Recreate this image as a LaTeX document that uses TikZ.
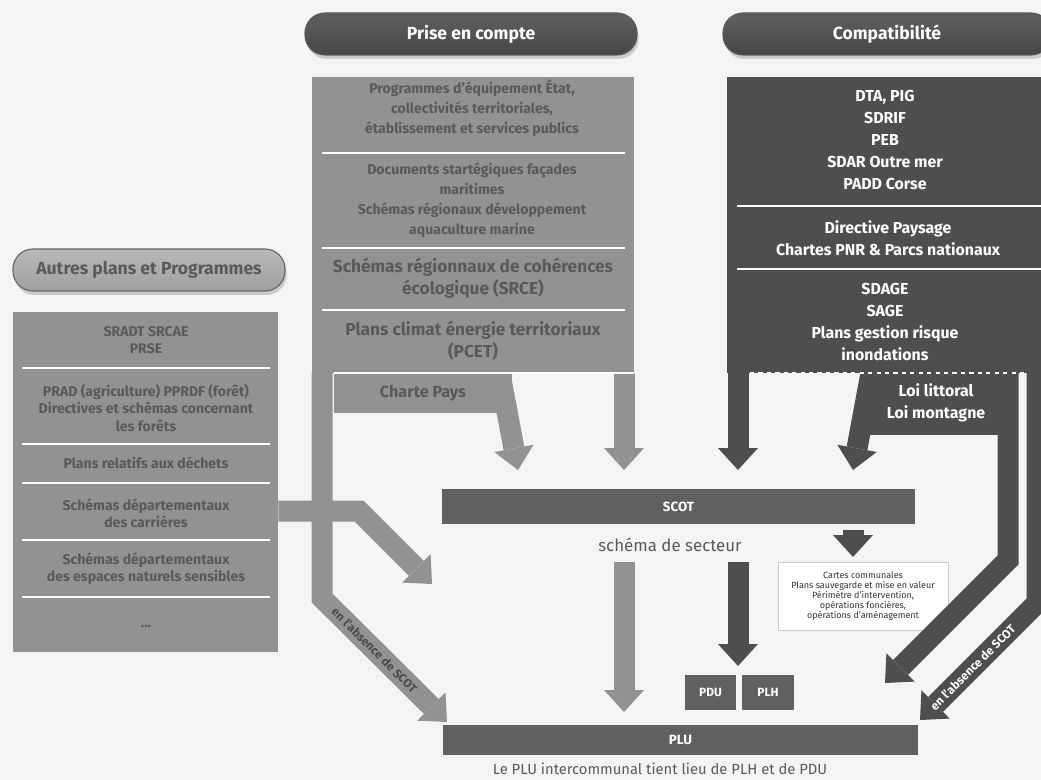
\documentclass[tikz,border=0pt]{standalone}
\usepackage{fontspec}
\setmainfont{Fira Sans}
\usepackage{tikz}
\usetikzlibrary{arrows.meta,calc,positioning,shadows}
\definecolor{paper}{HTML}{F4F4F4}
\definecolor{midgrey}{HTML}{929292}
\definecolor{inkgrey}{HTML}{5A5A5A}
\definecolor{darkgrey}{HTML}{4E4E4E}
\definecolor{bargrey}{HTML}{606060}
\tikzstyle{banner} = [rectangle, rounded corners=5mm, minimum height=10.5mm, draw=gray!70!black, line width=0.8pt, top color=gray!75!black, bottom color=gray!55!black, text=white, font=\bfseries\fontsize{12.5}{15}\selectfont, drop shadow={opacity=0.35, shadow xshift=0.4mm, shadow yshift=-1mm}]
\tikzstyle{lightbanner} = [banner, top color=gray!55, bottom color=gray!75, draw=gray!80!black, text=inkgrey]
\tikzstyle{panel} = [rectangle, fill=midgrey, inner sep=0pt]
\tikzstyle{darkpanel} = [rectangle, fill=darkgrey, inner sep=0pt]
\tikzstyle{bar} = [rectangle, fill=bargrey, inner sep=0pt, text=white, font=\bfseries\fontsize{9.5}{12}\selectfont]
\tikzstyle{softtext} = [align=center, text=inkgrey, font=\bfseries\fontsize{10}{12.2}\selectfont]
\tikzstyle{widesofttext} = [softtext, font=\bfseries\fontsize{10}{14.2}\selectfont]
\tikzstyle{bigsofttext} = [softtext, font=\bfseries\fontsize{12.3}{15.6}\selectfont]
\tikzstyle{whitetext} = [align=center, text=white, font=\bfseries\fontsize{11.3}{15.6}\selectfont]
\tikzstyle{divider} = [white, line width=1pt]
\tikzstyle{lightflow} = [draw=midgrey, line width=5.25mm, line join=miter, -{Triangle[width=10mm,length=5.5mm,line width=0pt]}]
\tikzstyle{darkflow} = [lightflow, draw=darkgrey]
\begin{document}
\begin{tikzpicture}[x=0.25mm, y=-0.25mm]
        \useasboundingbox (0,0) rectangle (1041,780);
        \clip (0,0) rectangle (1041,780);
        \fill[paper] (0,0) rectangle (1041,780);
        \node (hdr-prise) [banner, minimum width=83mm] at (471,34) {Prise en compte};
        \node (hdr-compat) [banner, minimum width=82mm] at (887,34) {Compatibilité};
        \node (hdr-autres) [lightbanner, minimum width=68mm] at (149,270) {Autres plans et Programmes};
        \node (autres) [panel, minimum width=66.25mm, minimum height=85mm] at (145.5,482) {};
        \node (prise) [panel, minimum width=80.5mm, minimum height=74mm] at (473,225) {};
        \node (charte) [panel, minimum width=44.5mm, minimum height=10mm] at (423,393) {};
        \node (compat) [darkpanel, minimum width=79.5mm, minimum height=74mm] at (886,225) {};
        \node (loi) [darkpanel, minimum width=39mm, minimum height=15.5mm] at (940,404) {};
        \node (scot) [bar, minimum width=118.25mm, minimum height=8.75mm] at (678.5,506.5) {SCOT};
        \node (plu) [bar, minimum width=118.75mm, minimum height=7.5mm] at (680.5,740) {PLU};
        \node (pdu) [bar, font=\bfseries\fontsize{8.5}{10}\selectfont, minimum width=12.75mm, minimum height=8.75mm] at (710.5,692.5) {PDU};
        \node (plh) [bar, font=\bfseries\fontsize{8.5}{10}\selectfont, minimum width=13mm, minimum height=8.75mm] at (768,692.5) {PLH};
        \node (secteur) [text=inkgrey, font=\fontsize{12}{14}\selectfont] at (670,545) {schéma de secteur};
        \node (carte) [draw=gray!40, fill=white, minimum width=42.5mm, minimum height=17mm, align=center, text=black!80, font=\fontsize{6.4}{7.1}\selectfont] at (863,596) {Cartes communales\\Plans sauvegarde et mise en valeur\\Périmètre d'intervention,\\opérations foncières,\\opérations d'aménagement};
        \node (note) [text=inkgrey, font=\fontsize{10.5}{12}\selectfont] at (660,769) {Le PLU intercommunal tient lieu de PLH et de PDU};
        \coordinate (autres-out) at (autres.east |- 0,511);
        \coordinate (autres-bend) at (359,511);
        \coordinate (autres-tip) at (432,584);
        \coordinate (left-top) at (322,373);
        \coordinate (left-bend) at (322,598);
        \coordinate (left-tip) at (447,722);
        \coordinate (charte-top) at (500,374);
        \coordinate (charte-tip) at (518,470);
        \coordinate (prise-top) at (624,373);
        \coordinate (prise-tip) at (624,470);
        \coordinate (compat-top) at (738,373);
        \coordinate (compat-tip) at (738,470);
        \coordinate (loi-top) at (871,373);
        \coordinate (loi-tip) at (853,470);
        \coordinate (inner-top) at (1008,373);
        \coordinate (inner-bend) at (1008,560);
        \coordinate (inner-tip) at (885,683);
        \coordinate (outer-top) at (1037,373);
        \coordinate (outer-bend) at (1037,603);
        \coordinate (outer-tip) at (920,720);
        \coordinate (secteur-light) at (624,562);
        \coordinate (light-tip) at (624,712);
        \coordinate (secteur-dark) at (738,562);
        \coordinate (dark-tip) at (738,666);
        \coordinate (small-top) at (853,530);
        \coordinate (small-tip) at (853,557);
        \draw [lightflow] (left-top) -- (left-bend) -- (left-tip);
        \draw [lightflow] (autres-out) -- (autres-bend) -- (autres-tip);
        \draw [lightflow] (charte-top) -- (charte-tip);
        \draw [lightflow] (prise-top) -- (prise-tip);
        \draw [darkflow] (compat-top) -- (compat-tip);
        \draw [darkflow] (loi-top) -- (loi-tip);
        \draw [darkflow] (inner-top) -- (inner-bend) -- (inner-tip);
        \draw [darkflow] (outer-top) -- (outer-bend) -- (outer-tip);
        \draw [lightflow] (secteur-light) -- (light-tip);
        \draw [darkflow] (secteur-dark) -- (dark-tip);
        \draw [darkflow] (small-top) -- (small-tip);
        \foreach \y in {368,444,483,540,597} \draw [divider] (22,\y) -- (270,\y);
        \foreach \y in {153,248,310} \draw [divider] (322,\y) -- (625,\y);
        \draw [divider] (334,373) -- (634,373);
        \foreach \y in {206,269} \draw [divider] (737,\y) -- (1041,\y);
        \draw [divider, dashed] (750,373) -- (1028,373);
        \node (t-sradt) [softtext] at (146,340) {SRADT SRCAE\\PRSE};
        \node (t-prad) [softtext] at (146,408) {PRAD (agriculture) PPRDF (forêt)\\Directives et schémas concernant\\les forêts};
        \node (t-dechets) [softtext] at (146,463) {Plans relatifs aux déchets};
        \node (t-carrieres) [softtext] at (146,513) {Schémas départementaux\\des carrières};
        \node (t-ens) [softtext] at (146,569) {Schémas départementaux\\des espaces naturels sensibles};
        \node (t-etc) [softtext] at (146,626) {...};
        \node (t-equip) [widesofttext] at (472,108) {Programmes d'équipement État,\\collectivités territoriales,\\établissement et services publics};
        \node (t-facades) [widesofttext] at (472,200) {Documents startégiques façades\\maritimes\\Schémas régionaux développement\\aquaculture marine};
        \node (t-srce) [bigsofttext] at (473,278) {Schémas régionnaux de cohérences\\écologique (SRCE)};
        \node (t-pcet) [bigsofttext] at (473,341) {Plans climat énergie territoriaux\\(PCET)};
        \node (t-charte) [bigsofttext, font=\bfseries\fontsize{11.5}{14}\selectfont] at (charte) {Charte Pays};
        \node (t-dta) [whitetext] at (885,140) {DTA, PIG\\SDRIF\\PEB\\SDAR Outre mer\\PADD Corse};
        \node (t-paysage) [whitetext] at (888,238) {Directive Paysage\\Chartes PNR \& Parcs nationaux};
        \node (t-sdage) [whitetext] at (885,322) {SDAGE\\SAGE\\Plans gestion risque\\inondations};
        \node (t-loi) [whitetext] at (936,403) {Loi littoral\\Loi montagne};
        \node (lbl-left) [text=black!70, font=\bfseries\fontsize{8.5}{10}\selectfont, rotate=-45] at ($(left-bend)!0.42!(left-tip)$) {en l'absence de SCOT};
        \node (lbl-right) [text=white, font=\bfseries\fontsize{8.5}{10}\selectfont, rotate=45] at ($(outer-bend)!0.55!(outer-tip)$) {en l'absence de SCOT};
\end{tikzpicture}
\end{document}
